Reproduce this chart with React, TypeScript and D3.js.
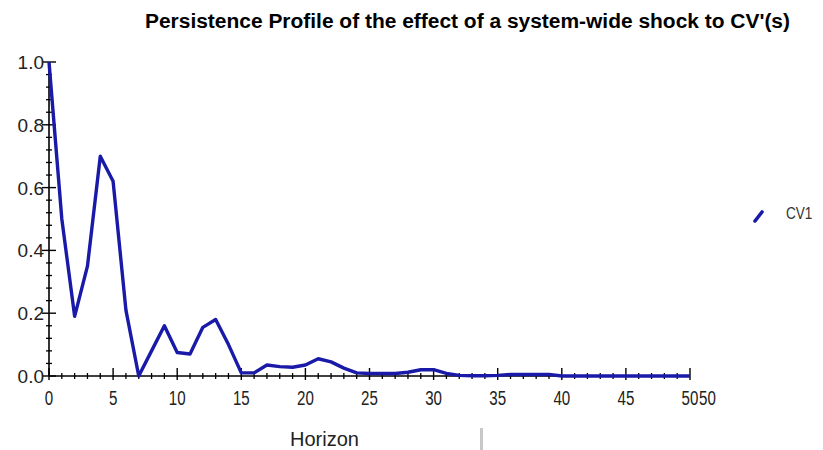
import React from "react";
import * as d3 from "d3";

const horizon: number[] = Array.from({ length: 51 }, (_, i) => i);
const cv1: number[] = [
  1.0, 0.5, 0.19, 0.35, 0.7, 0.62, 0.21, 0.0, 0.08, 0.16,
  0.075, 0.07, 0.155, 0.18, 0.1, 0.01, 0.01, 0.035, 0.03, 0.028,
  0.035, 0.055, 0.045, 0.025, 0.01, 0.008, 0.008, 0.008, 0.012, 0.02,
  0.02, 0.008, 0.002, 0.001, 0.001, 0.002, 0.005, 0.005, 0.005, 0.005,
  0, 0, 0, 0, 0, 0, 0, 0, 0, 0, 0,
];
const xTicks: number[] = [0, 5, 10, 15, 20, 25, 30, 35, 40, 45, 50];
const yTicks: number[] = [0, 0.2, 0.4, 0.6, 0.8, 1.0];
const title = "Persistence Profile of the effect of a system-wide shock to CV'(s)";
const seriesName = "CV1";
const xTitle = "Horizon";

export default function App() {
  const W = 823, H = 450;
  const x = d3.scaleLinear().domain([0, 50]).range([49, 690]);
  const y = d3.scaleLinear().domain([0, 1]).range([376, 62]);
  const line = d3
    .line<number>()
    .x((_, i) => x(horizon[i]))
    .y((d) => y(d));
  const blue = "#1a1aa8";
  const txt = "#222";
  const xMinor = d3.range(0, 51, 1).filter((v) => v % 5 !== 0);
  const yMinor = d3.range(1, 25).map((i) => i * 0.04).filter((_, i) => (i + 1) % 5 !== 0);

  return (
    <svg width={W} height={H} style={{ position: "absolute", left: 0, top: 0, background: "#fff" }}>
      <rect x={0} y={0} width={W} height={H} fill="#fff" />
      <text
        x={145}
        y={28}
        textLength={645}
        lengthAdjust="spacingAndGlyphs"
        fontFamily="Liberation Sans, Arial, sans-serif"
        fontWeight="bold"
        fontSize={20}
        fill="#000"
      >
        {title}
      </text>

      {/* axes */}
      <line x1={x(0)} x2={x(0)} y1={y(1)} y2={y(0)} stroke="#000" strokeWidth={1.6} />
      <line x1={x(0)} x2={x(50)} y1={y(0)} y2={y(0)} stroke="#000" strokeWidth={1.6} />

      {yTicks.map((t) => (
        <g key={"yt" + t}>
          <line x1={x(0) - 7} x2={x(0) + 7} y1={y(t)} y2={y(t)} stroke="#000" strokeWidth={1.4} />
          <text
            x={44}
            y={y(t) + 7}
            textAnchor="end"
            fontFamily="Liberation Sans, Arial, sans-serif"
            fontSize={19}
            fill={txt}
          >
            {t.toFixed(1)}
          </text>
        </g>
      ))}
      {yMinor.map((t) => (
        <line key={"ym" + t} x1={x(0) - 3} x2={x(0) + 3} y1={y(t)} y2={y(t)} stroke="#000" strokeWidth={1.3} />
      ))}

      {xTicks.map((t) => (
        <g key={"xt" + t}>
          <line x1={x(t)} x2={x(t)} y1={y(0) - 8} y2={y(0) + 4} stroke="#000" strokeWidth={1.4} />
          <text
            transform={`translate(${x(t)},${405}) scale(0.72,1)`}
            textAnchor="middle"
            fontFamily="Liberation Sans, Arial, sans-serif"
            fontSize={21}
            fill={txt}
          >
            {t}
          </text>
        </g>
      ))}
      <text
        transform={`translate(${x(50) + 9},${405}) scale(0.72,1)`}
        textAnchor="start"
        fontFamily="Liberation Sans, Arial, sans-serif"
        fontSize={21}
        fill={txt}
      >
        {xTicks[xTicks.length - 1]}
      </text>
      {xMinor.map((t) => (
        <line key={"xm" + t} x1={x(t)} x2={x(t)} y1={y(0) - 3} y2={y(0) + 3} stroke="#000" strokeWidth={1.3} />
      ))}

      <path d={line(cv1) || ""} fill="none" stroke={blue} strokeWidth={3.4} strokeLinejoin="round" />

      <text x={290} y={446} fontFamily="Liberation Sans, Arial, sans-serif" fontSize={20} fill={txt}>
        {xTitle}
      </text>

      {/* legend */}
      <line x1={755} y1={221} x2={762} y2={212} stroke={blue} strokeWidth={3.6} strokeLinecap="round" />
      <text
        transform="translate(786,219) scale(0.8,1)"
        fontFamily="Liberation Sans, Arial, sans-serif"
        fontSize={17}
        fill="#333"
      >
        {seriesName}
      </text>

      {/* faint artifact */}
      <rect x={480} y={428} width={3} height={22} fill="#c8c8c8" />
    </svg>
  );
}
